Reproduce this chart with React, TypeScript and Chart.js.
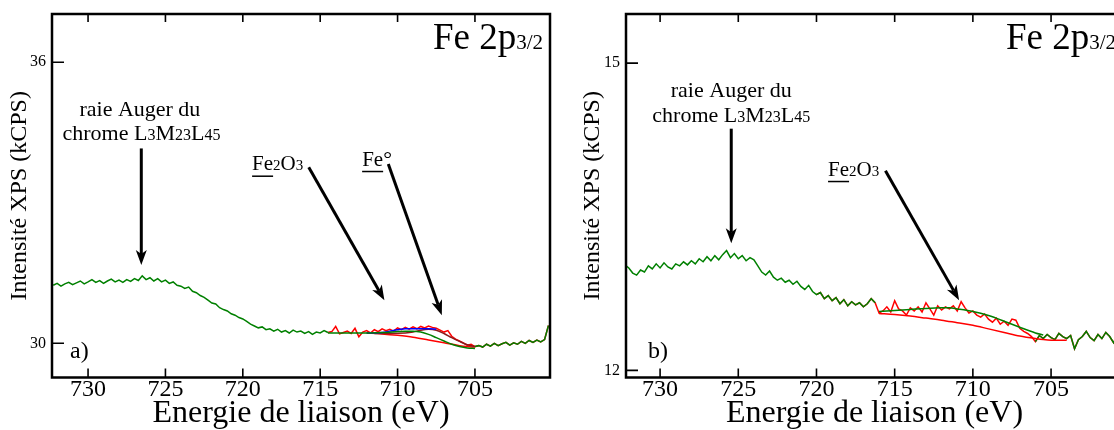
import React, { useEffect, useRef } from "react";
import { Chart, registerables } from "chart.js";

Chart.register(...registerables);

const SERIF = '"Liberation Serif", "Times New Roman", serif';

// Spectrum acquisition grid (binding energy, eV)
const SCAN_START_EV = 732.25;
const SCAN_STEP_EV = 0.25;

const xTickValues = [730, 725, 720, 715, 710, 705];
const leftYTickValues = [30, 36];
const rightYTickValues = [12, 15];

// a) raw spectrum (kCPS), 732.25 -> 700.25 eV
const leftSpectrum = [
  31.24, 31.28, 31.22, 31.27, 31.30, 31.25, 31.29, 31.33, 31.27, 31.31, 31.36, 31.30, 31.34, 31.28, 31.33, 31.37, 31.31, 31.35, 31.30, 31.36, 31.32, 31.38,
  31.34, 31.44, 31.36, 31.40, 31.33, 31.38, 31.31, 31.35,
  31.28, 31.31, 31.24, 31.22,
  31.17, 31.20, 31.11, 31.08, 31.02, 30.98, 30.92, 30.86,
  30.84, 30.76, 30.72, 30.69, 30.63, 30.60, 30.55, 30.52,
  30.47, 30.41, 30.37, 30.33, 30.35, 30.29,
  30.31, 30.26, 30.30, 30.24, 30.27, 30.22, 30.28, 30.24,
  30.26, 30.21, 30.25, 30.19, 30.24, 30.22, 30.27, 30.23,
  30.25, 30.36, 30.20, 30.23, 30.26, 30.21, 30.32, 30.14, 30.24, 30.27,
  30.22, 30.29, 30.25, 30.31, 30.27, 30.30, 30.26, 30.33, 30.29, 30.34,
  30.30, 30.35, 30.31, 30.36, 30.33, 30.37, 30.34, 30.32,
  30.28, 30.24, 30.27, 30.15, 30.09, 30.05, 30.01, 29.96, 29.98, 29.93, 29.95,
  29.92, 29.98, 29.94, 30.00, 29.95, 29.99, 30.02, 29.96, 30.01, 29.98, 30.04, 30.00, 30.06, 30.02, 30.07, 30.03, 30.08, 30.38,
];

// b) raw spectrum (kCPS), 732.25 -> 700.5 eV
const rightSpectrum = [
  13.03, 13.00, 12.95, 12.93, 12.98, 12.96,
  13.02, 12.99, 13.04, 13.00, 13.05, 13.01, 12.99, 13.04, 13.02, 13.06, 13.03, 13.07,
  13.04, 13.09, 13.06, 13.11, 13.07, 13.12, 13.08, 13.13, 13.17, 13.10,
  13.14, 13.09, 13.12, 13.07, 13.10, 13.08,
  13.02, 12.96, 12.93, 12.97, 12.91, 12.88, 12.90, 12.86,
  12.88, 12.84, 12.87, 12.82, 12.79, 12.83, 12.77, 12.74, 12.76, 12.70,
  12.73, 12.68, 12.71, 12.65, 12.69, 12.63, 12.67, 12.64,
  12.66, 12.62, 12.65, 12.70, 12.66,
  12.56, 12.58, 12.62, 12.57, 12.68, 12.60, 12.58, 12.54, 12.61,
  12.58, 12.62, 12.57, 12.66, 12.60, 12.54, 12.63, 12.59, 12.62, 12.60,
  12.63, 12.58, 12.67, 12.61, 12.56, 12.58,
  12.54, 12.52, 12.55, 12.50, 12.47, 12.51, 12.45, 12.48,
  12.44, 12.50, 12.49, 12.41, 12.38, 12.36, 12.33, 12.28,
  12.34, 12.31, 12.35, 12.32, 12.30, 12.36, 12.33, 12.31, 12.34, 12.21, 12.30, 12.33, 12.38, 12.32, 12.29, 12.35, 12.31, 12.37, 12.33, 12.27, 12.34, 12.32,
];

// a) fitted curves
const leftEnvelopeEnergy = [714.5, 713, 712, 711, 710, 709.5, 709, 708.5, 708, 707.5, 707, 706.5, 706, 705.5, 705];
const leftEnvelopeIntensity = [30.22, 30.22, 30.22, 30.23, 30.25, 30.26, 30.26, 30.24, 30.19, 30.12, 30.05, 29.98, 29.93, 29.9, 29.89];
const leftBackgroundEnergy = [712, 711, 710, 709, 708, 707, 706, 705.5, 705];
const leftBackgroundIntensity = [30.22, 30.2, 30.17, 30.13, 30.07, 30.01, 29.95, 29.93, 29.92];
const leftOxideEnergy = [712, 711, 710.5, 710, 709.5, 709, 708.5, 708, 707.5];
const leftOxideIntensity = [30.22, 30.23, 30.26, 30.29, 30.31, 30.31, 30.31, 30.31, 30.3];
const leftMetalEnergy = [711.5, 710.5, 709.5, 709, 708.5, 708, 707.5, 707, 706.5, 706, 705.5, 705];
const leftMetalIntensity = [30.21, 30.21, 30.22, 30.24, 30.28, 30.3, 30.28, 30.21, 30.12, 30.04, 29.97, 29.93];

// b) fitted curves
const rightEnvelopeEnergy = [716, 715, 714, 713, 712, 711.5, 711, 710, 709, 708, 707, 706, 705.5];
const rightEnvelopeIntensity = [12.575, 12.585, 12.595, 12.605, 12.61, 12.61, 12.6, 12.575, 12.535, 12.48, 12.42, 12.365, 12.345];
const rightBackgroundEnergy = [716, 715, 714, 713, 712, 711, 710, 709, 708, 707, 706, 705.5, 705, 704];
const rightBackgroundIntensity = [12.555, 12.545, 12.53, 12.51, 12.49, 12.465, 12.44, 12.405, 12.37, 12.335, 12.31, 12.3, 12.295, 12.295];

const GREEN = "#008000";
const RED = "#ff0000";
const BLUE = "#0000ff";
const BROWN = "#8b1a1a";

type Pt = { x: number; y: number };
const pairs = (e: number[], v: number[]): Pt[] => e.map((x, i) => ({ x, y: v[i] }));
const scan = (values: number[], hi: number, lo: number): Pt[] =>
  values
    .map((y, i) => ({ x: SCAN_START_EV - SCAN_STEP_EV * i, y }))
    .filter((p) => p.x <= hi + 1e-9 && p.x >= lo - 1e-9);

const ds = (data: Pt[], color: string, width = 1.5, smooth = false) => ({
  data,
  borderColor: color,
  backgroundColor: color,
  borderWidth: width,
  pointRadius: 0,
  showLine: true,
  fill: false,
  tension: 0,
  cubicInterpolationMode: smooth ? "monotone" : "default",
});

type Run = { t: string; s: number; u?: boolean };
type Txt = { runs: Run[]; x: number; y: number; align: "left" | "center" | "right" };
type Arrow = { x1: number; y1: number; x2: number; y2: number };

interface PanelSpec {
  canvasLeft: number;
  canvasWidth: number;
  yAxisWidth: number;
  padRight: number;
  xMin: number;
  xMax: number;
  yMin: number;
  yMax: number;
  yTicks: number[];
  yTitlePad: number;
  datasets: any[];
  texts: Txt[];
  arrows: Arrow[];
  letter: string;
  letterDx: number;
}

function drawRuns(ctx: CanvasRenderingContext2D, runs: Run[], x: number, y: number, align: string) {
  let total = 0;
  for (const r of runs) {
    ctx.font = `${r.s}px ${SERIF}`;
    total += ctx.measureText(r.t).width;
  }
  let cx = align === "left" ? x : align === "center" ? x - total / 2 : x - total;
  ctx.textAlign = "left";
  ctx.textBaseline = "alphabetic";
  for (const r of runs) {
    ctx.font = `${r.s}px ${SERIF}`;
    const w = ctx.measureText(r.t).width;
    ctx.fillText(r.t, cx, y);
    if (r.u) ctx.fillRect(cx, y + 5, w, 1.5);
    cx += w;
  }
}

function drawArrow(ctx: CanvasRenderingContext2D, x1: number, y1: number, x2: number, y2: number) {
  const a = Math.atan2(y2 - y1, x2 - x1);
  const c = Math.cos(a), s = Math.sin(a);
  const L = 15, W = 5.5, N = 4;
  const bx = x2 - L * c, by = y2 - L * s;
  ctx.lineWidth = 3;
  ctx.beginPath();
  ctx.moveTo(x1, y1);
  ctx.lineTo(bx + N * c, by + N * s);
  ctx.stroke();
  ctx.beginPath();
  ctx.moveTo(x2, y2);
  ctx.lineTo(bx - W * s, by + W * c);
  ctx.lineTo(bx + N * c, by + N * s);
  ctx.lineTo(bx + W * s, by - W * c);
  ctx.closePath();
  ctx.fill();
}

const decor = (spec: PanelSpec) => ({
  id: "decor",
  afterDraw(chart: any) {
    const { ctx, chartArea: ca } = chart;
    const xs = chart.scales.x, ys = chart.scales.y;
    ctx.save();
    ctx.strokeStyle = "#000";
    ctx.fillStyle = "#000";
    ctx.lineWidth = 1.6;
    ctx.beginPath();
    for (const v of xTickValues) {
      const px = xs.getPixelForValue(v);
      ctx.moveTo(px, ca.bottom);
      ctx.lineTo(px, ca.bottom - 9);
      ctx.moveTo(px, ca.top);
      ctx.lineTo(px, ca.top + 8);
    }
    for (const v of spec.yTicks) {
      const py = ys.getPixelForValue(v);
      ctx.moveTo(ca.left, py);
      ctx.lineTo(ca.left + 12, py);
    }
    ctx.stroke();
    ctx.lineWidth = 2.5;
    ctx.strokeRect(ca.left, ca.top, ca.right - ca.left, ca.bottom - ca.top);

    drawRuns(ctx, [{ t: "Fe 2p", s: 37 }, { t: "3/2", s: 21 }], ca.right - 7, ca.top + 35, "right");
    drawRuns(ctx, [{ t: spec.letter, s: 24 }], ca.left + spec.letterDx, ca.bottom - 20, "left");
    for (const t of spec.texts) {
      drawRuns(ctx, t.runs, xs.getPixelForValue(t.x), ys.getPixelForValue(t.y), t.align);
    }
    for (const a of spec.arrows) {
      drawArrow(ctx, xs.getPixelForValue(a.x1), ys.getPixelForValue(a.y1), xs.getPixelForValue(a.x2), ys.getPixelForValue(a.y2));
    }
    ctx.restore();
  },
});

const augerLine1: Run[] = [{ t: "raie Auger du", s: 22 }];
const augerLine2: Run[] = [
  { t: "chrome L", s: 22 },
  { t: "3", s: 16 },
  { t: "M", s: 22 },
  { t: "23", s: 16 },
  { t: "L", s: 22 },
  { t: "45", s: 16 },
];
const fe2o3Runs: Run[] = [
  { t: "Fe", s: 21, u: true },
  { t: "2", s: 15 },
  { t: "O", s: 21 },
  { t: "3", s: 15 },
];
const feMetalRuns: Run[] = [
  { t: "Fe", s: 21, u: true },
  { t: "°", s: 22 },
];

const leftSpec: PanelSpec = {
  canvasLeft: 0,
  canvasWidth: 560,
  yAxisWidth: 52,
  padRight: 10,
  xMin: 700.15,
  xMax: 732.33,
  yMin: 29.27,
  yMax: 37.03,
  yTicks: leftYTickValues,
  yTitlePad: 8,
  datasets: [
    ds(pairs(leftEnvelopeEnergy, leftEnvelopeIntensity), GREEN, 1.5, true),
    ds(pairs(leftOxideEnergy, leftOxideIntensity), BLUE, 1.5, true),
    ds(pairs(leftMetalEnergy, leftMetalIntensity), BROWN, 1.5, true),
    ds(pairs(leftBackgroundEnergy, leftBackgroundIntensity), RED, 1.5, true),
    ds(scan(leftSpectrum, 733, 714.5), GREEN),
    ds(scan(leftSpectrum, 705, 700), GREEN),
    ds(scan(leftSpectrum, 714.5, 700), RED),
  ],
  texts: [
    { runs: augerLine1, x: 726.65, y: 34.86, align: "center" },
    { runs: augerLine2, x: 726.55, y: 34.33, align: "center" },
    { runs: fe2o3Runs, x: 719.4, y: 33.69, align: "left" },
    { runs: feMetalRuns, x: 712.29, y: 33.79, align: "left" },
  ],
  arrows: [
    { x1: 726.56, y1: 34.16, x2: 726.56, y2: 31.67 },
    { x1: 715.74, y1: 33.76, x2: 710.85, y2: 30.92 },
    { x1: 710.6, y1: 33.83, x2: 707.14, y2: 30.6 },
  ],
  letter: "a)",
  letterDx: 18,
};

const rightSpec: PanelSpec = {
  canvasLeft: 570,
  canvasWidth: 570,
  yAxisWidth: 56,
  padRight: 17,
  xMin: 700.4,
  xMax: 732.18,
  yMin: 11.93,
  yMax: 15.48,
  yTicks: rightYTickValues,
  yTitlePad: 11,
  datasets: [
    ds(pairs(rightEnvelopeEnergy, rightEnvelopeIntensity), GREEN, 1.5, true),
    ds(pairs(rightBackgroundEnergy, rightBackgroundIntensity), RED, 1.5, true),
    ds(scan(rightSpectrum, 733, 716.25), GREEN),
    ds(scan(rightSpectrum, 706, 700), GREEN),
    ds(scan(rightSpectrum, 720, 700), RED),
  ],
  texts: [
    { runs: augerLine1, x: 725.45, y: 14.67, align: "center" },
    { runs: augerLine2, x: 725.45, y: 14.43, align: "center" },
    { runs: fe2o3Runs, x: 719.26, y: 13.9, align: "left" },
  ],
  arrows: [
    { x1: 725.45, y1: 14.36, x2: 725.45, y2: 13.24 },
    { x1: 715.59, y1: 13.95, x2: 710.88, y2: 12.685 },
  ],
  letter: "b)",
  letterDx: 22,
};

function Panel({ spec }: { spec: PanelSpec }) {
  const ref = useRef<HTMLCanvasElement>(null);
  useEffect(() => {
    const chart = new Chart(ref.current as HTMLCanvasElement, {
      type: "scatter",
      data: { datasets: spec.datasets },
      options: {
        responsive: false,
        animation: false,
        devicePixelRatio: 1,
        layout: { padding: { left: 0, right: spec.padRight, top: 13, bottom: 0 } },
        plugins: { legend: { display: false }, tooltip: { enabled: false } },
        elements: { point: { radius: 0 } },
        scales: {
          x: {
            type: "linear",
            reverse: true,
            min: spec.xMin,
            max: spec.xMax,
            afterBuildTicks: (s: any) => {
              s.ticks = xTickValues.map((v) => ({ value: v }));
            },
            afterFit: (s: any) => {
              s.height = 52.5;
            },
            grid: { display: false, drawTicks: false },
            border: { display: false },
            ticks: {
              color: "#000",
              font: { family: SERIF, size: 24, lineHeight: 1 },
              padding: 0,
              maxRotation: 0,
              autoSkip: false,
              callback: (v: any) => String(v),
            },
            title: {
              display: true,
              text: "Energie de liaison (eV)",
              color: "#000",
              font: { family: SERIF, size: 32, lineHeight: 1 },
              padding: { top: 0, bottom: 0 },
            },
          },
          y: {
            type: "linear",
            min: spec.yMin,
            max: spec.yMax,
            afterBuildTicks: (s: any) => {
              s.ticks = spec.yTicks.map((v) => ({ value: v }));
            },
            afterFit: (s: any) => {
              s.width = spec.yAxisWidth;
            },
            grid: { display: false, drawTicks: false },
            border: { display: false },
            ticks: {
              color: "#000",
              font: { family: SERIF, size: 16, lineHeight: 1 },
              padding: 6,
              autoSkip: false,
              callback: (v: any) => String(v),
            },
            title: {
              display: true,
              text: "Intensité XPS (kCPS)",
              color: "#000",
              font: { family: SERIF, size: 24, lineHeight: 1 },
              padding: { top: spec.yTitlePad, bottom: 0 },
            },
          },
        },
      } as any,
      plugins: [decor(spec)],
    });
    return () => chart.destroy();
  }, [spec]);
  return (
    <canvas
      ref={ref}
      width={spec.canvasWidth}
      height={430}
      style={{ position: "absolute", left: spec.canvasLeft, top: 0, width: spec.canvasWidth, height: 430 }}
    />
  );
}

export default function App() {
  return (
    <div
      style={{
        position: "fixed",
        left: 0,
        top: 0,
        width: 1114,
        height: 430,
        overflow: "hidden",
        background: "#fff",
      }}
    >
      <Panel spec={leftSpec} />
      <Panel spec={rightSpec} />
    </div>
  );
}
